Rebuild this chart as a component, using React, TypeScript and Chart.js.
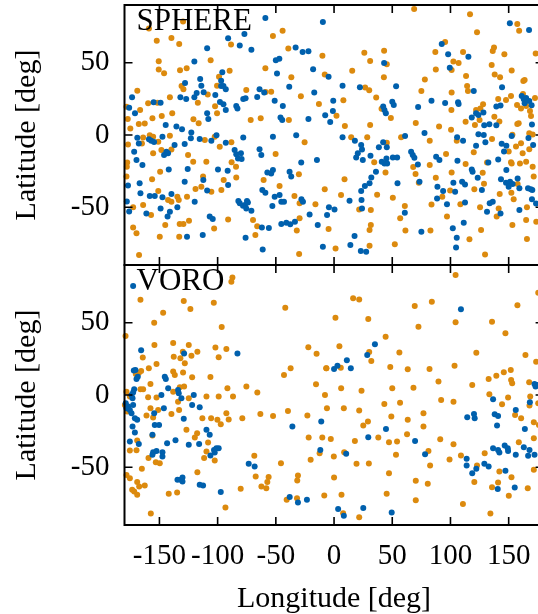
import React, { useEffect, useRef } from 'react';
import { Chart, registerables } from 'chart.js';

Chart.register(...registerables);

// ---------- axes ----------
const lonTicks = [-150, -100, -50, 0, 50, 100, 150];
const latTicks = [-50, 0, 50];
const lonMin = -180;
const lonMax = 180;
const latMin = -90;
const latMax = 90;
const xTitle = 'Longitude [deg]';
const yTitle = 'Latitude [deg]';
const panelNames = ['SPHERE', 'VORO'];

// ---------- data: [longitude, latitude] ----------
const sphereBlue: number[][] = [
  [-59,81],[-91,67],[-77,70],[-81,62],[-71,59],[-109,60],[-33,60.5],[-27,57.4],[-22,58],[-120,50.8],
  [-96,43.4],[-49,42.5],[-50,51.7],[-47,52.8],[-18,45.5],[-97,37.6],[-115,38.7],[-97,34],[-93,31.6],[-95,34],
  [-64,31.6],[-60,29.4],[-38.5,33.4],[-17,29.4],[-128,36],[-132,26.1],[-127,25],[-114,34.1],[-118,29],[-120,26.1],
  [-112,29.6],[-173.5,26.1],[-176,18.9],[-171,15.1],[-155,22.6],[-149,22.4],[-102,27.7],[-98,22.8],[-95,21.3],[-93,17.3],
  [-78,25],[-76,25.4],[-66,26.3],[-51,23.7],[-84,20],[-83,18.4],[-109,15.1],[-108,11.1],[-44,20],[-46,12.2],
  [-44.5,10.4],[-22,11.1],[-177,-35],[-178,-46],[-176,-53],
  [-169,-1.9],[-167.7,-5.8],[-159,-3],[-157,-3.9],[-154.6,-4.9],[-147.4,-1.2],[-144.6,6.9],[-135.4,5.8],[-130.6,3.9],[-122.6,1.8],
  [-123,-2.3],[-144,-11.6],[-146,-13.8],[-142.6,-12.7],[-171.7,-11.6],[-137,-7],[-128.3,-6.3],[-115.4,-2.8],[-105.4,-3.9],[-101,-0.1],
  [-93,-5.4],[-78,-1.7],[-85.4,-10.4],[-84,-13.4],[-80,-12.7],[-82.5,-16.2],[-79.4,-16.6],[-64,-9.9],[-62.5,-13.8],[-52.5,-1.2],
  [-32.5,-0.1],[-169.7,-17.3],[-164.6,-20.8],[-99.7,-23.8],[-91.4,-24.8],[-125.7,-23.5],[-142,-23.8],[-57.3,-25.9],[-54,-26.6],[-52.5,-24.3],
  [-38.2,-25.4],[-36.8,-28.8],[-28.2,-19.1],[-61.6,-38.1],[-59,-40],[-74.8,-45.7],[-82.2,-45.7],[-81,-47.3],[-76.5,-48.5],[-112.3,-31.2],
  [-109,-38.5],[-91,-34.7],[-128.3,-32.3],[-119.7,-46.2],[-167,-33.4],[-158.3,-42.2],[-154,-42.2],[-147.4,-43.1],[-139.7,-40.9],[-134.6,-50.1],
  [-166.3,-40.4],[-46.8,-41.6],[-45.3,-46.2],[-43,-46.2],[-51,-42.7],[-53,-49.2],[-28,-44.4],[-26.7,-46.2],[-14.7,-17.3],[-161.2,-54.3],
  [-149,-50.8],[-141,-53.1],[-143,-56.5],[-106.8,-56.5],[-104.2,-58.1],[-74,-46.8],[-78.2,-49],[-75.4,-50.8],[-71,-52.4],[-62,-64],
  [-56,-64.4],[-45.3,-61.6],[-41,-60.7],[-37.6,-61.8],[-33.6,-60],[-21,-55],[-14,-62.3],[-126.3,-70.4],[-112.8,-69.3],[-76,-71.1],
  [-61.3,-79.2],
  [-9.6,78.3],[151,77.3],[167.5,72.7],[92.5,63],[98,55.9],[115.4,54.1],[43,49.9],[99.4,46.6],[-4.7,40.4],[7.3,34.1],
  [22.2,33],[53.3,33.7],[83.7,23.7],[120,30.5],[95.4,22.2],[106.5,22.6],[107,21.5],[-0.7,23.7],[-1,16.6],[-7.6,13.6],
  [-3.3,9],[7.3,-1.6],[42.2,19.7],[43.3,17.3],[44.5,15],[50,23.1],[51.3,20.8],[72.2,19.4],[77.7,1.4],[105.7,-1.6],
  [118.3,12.2],[122,15],[124,13.8],[128.3,15.5],[129,6.7],[133.4,7.4],[139.4,6.7],[144.3,33],[161.2,27],[163,24.8],
  [165,25.7],[163.7,21.9],[167.7,23.5],[169.7,20.6],[139.4,19.7],[143,20.4],[170,7.2],[124,0.5],[128.6,0],[152.6,-0.7],
  [61,-0.7],
  [17.9,-3.9],[23.3,-7],[24,-10],[20.4,-12.7],[24.7,-17.3],[19,-15.5],[31.3,-14.3],[38.5,-8.5],[42.2,-5.1],[45.3,-8.5],
  [45,-16.2],[43.3,-19.7],[45.6,-19.7],[41,-18.5],[50.5,-15.5],[54.2,-15.5],[66.2,-11.6],[67.6,-13.8],[69,-15.7],[72,-20.4],
  [73.4,-32.3],[87.7,-15.1],[90.5,-17.3],[110.8,-3.9],[106,-17.8],[118.3,-23.8],[119,-25.4],[123.4,-29.6],[122,-7.4],[130,-5.1],
  [88.8,-35.8],[93.7,-38.7],[102.5,-33],[104,-39.3],[110,-32.3],[112.5,-34.2],[112.5,-46.8],[88.5,-43.9],[97,-48],[127,-38.1],
  [136.3,-46.2],[133.7,-47.3],[131.4,-53.1],[143,-54.3],[148,-24.3],[143.4,-30.7],[147.7,-33],[151.2,-32.3],[153.4,-34],[150,-35.8],
  [159.2,-36.9],[157.7,-30.1],[166.6,-36.9],[170.3,-38.1],[170,-44.4],[159.2,-51.9],[102,-64.6],[105.4,-71.1],[104.8,-77.8],[111.4,-60.7],
  [75,-66.9],[60.8,-53.8],[-9.6,-77.3],[-6,-55.4],[-4.4,-50.1],[0.4,-51.5],[13.3,-45.5],[14,-76.2],[17.6,-69.9],[23.3,-38.7],
  [23.6,-45],[24,-50.8],[26.5,-35.3],[30.5,-33.4],[32,-29.4],[36,-25.4],[23,-80.3],[27.6,-80.8],[54.5,-33.4],
  [167,-2],[171,-7],[144,-6],[148,-7.5],[146,-11.5],[141,-17],[132.5,-19],[169,-37.5],[173.5,-47.5]
];

const sphereOrange: number[][] = [
  [-129.7,78.5],[-159,73.7],[-152.3,65.3],[-139.7,67.1],[-133,63],[-88.5,62.7],[-52.5,68.6],[-44.2,72.2],[-39.3,59.8],[-150.6,51],
  [-106,51.7],[-150.6,45.3],[-146,42.7],[-132.3,44.8],[-126.6,46.2],[-89.7,44.4],[-59,46.2],[-36.7,40],[-98.8,40.4],[-100.5,34.1],
  [-75.4,31.2],[-54,30],[-28.5,26.8],[-169,30.7],[-129.4,31.6],[-131,33.9],[-141,26.1],[-117,22.4],[-108.5,28.1],[-178.3,19.6],
  [-159.7,21.9],[-151.7,22.4],[-166.6,17.3],[-139,15.1],[-102.2,19.9],[-100.5,15.1],[-58.8,29.8],[-156,11.6],[-148,13.2],[-177.2,11.1],
  [-120.8,10.9],[-116.3,8.1],[-71.6,10.4],[-63,11.6],[-13,21.5],[-38.8,10.4],
  [-175,4.5],[-167.7,7.6],[-162.6,8],[-164,-1.7],[-165,-5.8],[-158.3,-0.1],[-155.4,-1.2],[-151,-4.6],[-141,-0.5],[-148.3,-10.4],
  [-155.4,-12.7],[-177,-6.5],[-139.7,-10],[-111,-3.5],[-102.5,-1.2],[-98.2,-8.1],[-88.2,-5.1],[-50.2,-13.2],[-25.3,-5.1],[-177.7,-19.1],
  [-121,-18.5],[-125.4,-13.8],[-109.7,-18.5],[-88,-18.9],[-84.2,-21.9],[-149.4,-25.4],[-30.2,-27.2],[-60.5,-31.2],[-112.5,-28.8],[-114,-35.8],
  [-105.4,-39.3],[-96.8,-38.1],[-84,-29.4],[-94.8,-31.2],[-119,-37.4],[-126.3,-42.7],[-156.3,-30.7],[-178.3,-28.8],[-142.6,-45],[-139.7,-46.2],
  [-134.6,-42.7],[-133.4,-45],[-151,-38.8],[-164,-48.5],[-172.6,-50.1],[-46.8,-35.3],[-34,-42.2],[-29.6,-47.3],[-16,-48],[-145,-62.3],
  [-157.2,-55.4],[-129.4,-61.6],[-132.6,-61.6],[-124.6,-59.4],[-91,-58.5],[-69.6,-58.9],[-66,-63.1],[-67.6,-69.3],[-29.6,-57.7],[-32,-66.2],
  [-172.6,-64],[-169.7,-68.1],[-167.5,-83.1],[-149.7,-70.4],[-133,-70.4],[-103,-64.7],[-30,-82.4],[-178,-22],
  [68.8,87.2],[116.8,83.6],[122.8,71.1],[157.4,76.8],[159,72.2],[95.4,64.4],[-10,54.9],[26,57],[43,58.4],[31,51.2],
  [45.3,49],[87,57.4],[110.8,57.4],[102.5,50.8],[107,49.9],[87.4,45.3],[101,45],[136.3,58.1],[137.4,60.5],[146.3,55.9],
  [135.4,48.4],[152.6,44.6],[138,41.8],[142.6,40],[173.2,56.5],[-8,41.8],[15.6,44.4],[42.8,40],[78,38.5],[113.4,40.9],
  [26.7,32.8],[30.2,30.9],[36.2,25.9],[75,30.5],[101,29.4],[114.3,33.9],[115,30.5],[100.8,17.3],[113,9.2],[8,24],
  [2.1,13.4],[9.3,6.3],[40.8,18.2],[48.8,11.8],[31,6.9],[70.2,8.3],[90.2,5.8],[100.5,3.7],[122,17.3],[125.7,18.4],
  [128,21.3],[125,10.4],[121,6.9],[142,9.4],[137.7,12.7],[141,25],[147.7,24.2],[152,27],[162.6,37.4],[163.7,38.1],
  [162.3,28.4],[157.2,20.8],[160.6,18.4],[165,20.1],[168.3,16.6],[169.2,13.2],[158.6,8.1],[157.4,7.6],[172.6,25.7],[167.7,1.2],
  [170.6,0.3],[153.2,0.1],[57.6,-1.6],[14.7,-1.6],[28.5,-1.6],
  [34.5,-18.9],[45.3,-5.4],[44.2,-25.9],[68,-22.2],[70,-27],[72.8,-33],[82.2,-3.9],[82.2,-20.8],[96.2,-13.2],[101,-25.9],
  [87.4,-29.6],[105.4,-3.9],[113,-20.1],[120,-12],[127.7,-26.1],[128.8,-33.7],[131.4,-19.1],[135.7,-2.8],[99.7,-38.5],[93,-42.7],
  [83.7,-48.2],[97,-56.5],[108.5,-48],[142.3,-40.9],[141.4,-50.8],[139.7,-56.5],[126.3,-65.8],[116.3,-72.2],[129.7,-82.7],[125.4,-50.1],
  [152.3,-40],[154.3,-44.4],[157.7,-34],[152.6,-19.7],[159.7,-19.7],[165,-18.5],[170.6,-21.9],[171.5,-28.8],[165.7,-50.1],[165,-58.9],
  [173.7,-60],[153.2,-62.3],[165.7,-72],[-8,-37.6],[-4.7,-65.1],[1.3,-78.5],[9,-30.7],[6,-41.6],[21.6,-51.5],[31.6,-51.9],
  [30.5,-65.8],[31.6,-62.3],[30.5,-76.6],[37,-41.3],[50.5,-43.4],[56.8,-57.7],[60.8,-49.2],[61.3,-66.2],[52.2,-75.7],[82.8,-66.2],
  [120.5,-37.6],[156.3,-8],[160.6,-5.7],[162,-12.7],[167.7,-9.9],[152,-18.9],[150,-11.5]
];

const voroBlue: number[][] = [
  [-172.6,75.4],[-165.7,30.9],[-172,16.9],[-170.6,17.3],[-168.6,12.7],[-169.7,11.1],[-171.7,4],[-172.6,1.7],[-174,0],[-173.1,-2.3],
  [-178.9,-5.7],[-176.9,-8],[-175.4,-10.3],[-178.3,-9.2],[-174,-12.6],[-172.6,-6.9],[-171.1,-16.1],[-169.1,-17.2],[-173.1,-21.8],[-171.1,-26],
  [-175.4,-32.2],[-167.7,-34],[-154.5,-12.6],[-156,-27.6],[-154,-20.7],[-150.3,-20.7],[-155.4,-39.6],[-152.5,-38.7],[-147.4,-39.6],[-147.4,-42.6],
  [-156,-41.4],[-145.4,12.7],[-144.5,11.1],[-142.5,4.6],[-148.3,0],[-146.2,-9.2],[-134,3.5],[-131.1,-2.3],[-133.4,1.2],[-128.8,28.8],
  [-129.1,-16.5],[-120.5,0],[-121.9,-6.9],[-115.4,-8.5],[-136.2,-31.3],[-143.4,-33.4],[-124.8,-34.5],[-115.9,-34],[-109.6,-24.1],[-106.8,-27.6],
  [-103.1,-38],[-101.1,-36.8],[-99.1,-36.8],[-102.5,-39.8],[-106.2,-41.9],[-134.5,-58.7],[-131.7,-58.7],[-130.2,-57.1],[-130.2,-59.9],[-115.4,-62.2],
  [-112.5,-62.6],[-97.3,-67.2],[-83,28.8],[-73.3,-47.6],[-68.2,-49.5],[-35.8,-21.8],[-38.1,-70.7],[-31,-74.4],[-23.3,-72.5],[-11,-18.4],
  [-11.8,-38],
  [109,59.3],[35.1,35.1],[28.5,27.7],[11,24],[2.9,20.3],[0,18],[14.4,18.5],[136.6,-3],[156.1,-10.3],[172.2,7.6],
  [114.4,-15.4],[120.2,-13.1],[120.8,-16.1],[138,-13.3],[140.9,-14.5],[140,-21.2],[44.6,-23.5],[69.6,-31.8],[78.2,-41],[29.4,-29.2],
  [10.4,-40.7],[113.9,-44.2],[113.9,-48.8],[118.7,-54.1],[122.2,-51.1],[129.1,-47.6],[132.8,-49.5],[136.6,-36.8],[140.9,-38],[142,-39.8],
  [146.6,-35],[149.2,-36.8],[149.5,-38.7],[147.2,-52.5],[156.1,-41.4],[163.9,-23.5],[163,-36.1],[167.9,-38],[172.2,-41.4],[166.7,-42.1],
  [155.2,-64],[140.6,-65],[3.5,-79],[8.4,-83.6],[25.1,-78.3],[49.5,-81.3],[168.2,-5],[173.1,5.8],[175,7]
];

const voroOrange: number[][] = [
  [-87.3,81.4],[-88.2,78.4],[-166.3,65.9],[-129.1,65],[-123.4,59.5],[-146.8,57],[-154.5,50],[-103.3,63.9],[-96.5,47.1],[-179.1,40.8],
  [-154.3,34.6],[-138.2,36],[-124.8,34.6],[-129.9,30],[-117.4,30],[-101.9,32.8],[-92.5,31.8],[-99.1,26.1],[-164.3,25.9],[-137.7,26.5],
  [-132,25.4],[-128.2,21.9],[-122.5,27.2],[-170.3,14.6],[-167.7,15.3],[-165.7,16.7],[-159.1,18.5],[-152.5,21.5],[-138.2,16.2],[-136.8,13.9],
  [-129.7,15.5],[-121.9,12.3],[-106.2,12.5],[-157.7,7.6],[-166.3,4],[-164,4],[-178.3,2.3],[-175.4,-1.1],[-179.7,-6.9],[-177.7,-11.5],
  [-159.7,-1.6],[-152.5,-1.8],[-157.7,-9.2],[-155.4,-15.6],[-161.1,-14.2],[-151.1,-10.3],[-138.2,2.3],[-132.5,5.3],[-128.8,5.8],[-139.7,-13.1],
  [-133.1,-10.3],[-124.8,-2.3],[-134,-4.6],[-109.6,-1.1],[-99.1,-1.1],[-86.8,-1.1],[-91.6,4.6],[-75.3,5.8],[-65.9,1.7],[-113.1,-16.1],
  [-105.6,-16.1],[-100.2,-17.2],[-97.3,-20.2],[-92.5,-12.6],[-90.5,-17],[-78.8,-16.1],[-63.3,-13.1],[-52.4,-14.5],[-126.8,-24.1],[-117.6,-26.5],
  [-119.6,-29.4],[-108.2,-32.9],[-109.6,-39.1],[-111.6,-43.7],[-102.5,-45.3],[-156,-28.1],[-159.4,-43.7],[-153.1,-46.5],[-149.7,-47.2],[-169.1,-31.5],
  [-169.7,-38.2],[-175.4,-38.4],[-165.1,-51.1],[-178.3,-55.3],[-175.4,-57.6],[-169.1,-60.3],[-167.4,-63.3],[-162.6,-62.6],[-171.7,-66.8],[-169.1,-69.1],
  [-173.4,-65.6],[-157.4,-82],[-142,-68.4],[-134.8,-67.5],[-117.4,-53.4],[-93.3,-77.8],[-80.2,-64.9],[-68.5,-42.1],[-67.3,-56.4],[-62.4,-63.3],
  [-58.2,-64.5],[-57.3,-60.3],[-56.2,-56.8],[-45.6,-47.2],[-40.7,-72.5],[-31.8,-71.4],[-31.6,-59.2],[-31,-55.7],[-20.1,-44.9],[-8.4,-69.5],
  [-41.9,60.4],[-22.1,33],[-15,28.6],[-6.7,18.5],[-15.5,7.4],[-7.8,0],[-6.1,-9.2],[-10.1,-29.4],[-12.4,-40.3],[-43,13.9],
  [-37.3,18.5],[-39.6,-11],[-22.9,-14.2],[-21.8,-29.4],
  [104.4,83],[16.4,66.9],[21.6,66.2],[1.2,53.5],[29.4,52.6],[69.3,61.6],[84,64.6],[72.5,47.3],[104.4,50.3],[135.7,50.7],
  [147.2,42.7],[157.5,62.2],[175.4,70.8],[4.6,33.7],[44.3,40.4],[30.2,29.8],[32,23.5],[56.1,29.5],[48.3,19.4],[63.3,17.8],
  [82,18],[103.5,20.3],[122.2,29.3],[164.4,27.7],[173.6,23.1],[-6.6,18.5],[5.8,18.9],[6.1,4.7],[23.6,3],[50,4.6],
  [68.2,5.1],[89.7,9.3],[92,-3.4],[118.7,6.9],[132.8,11.1],[139.4,13.4],[145.8,15.7],[151.8,17.3],[152.1,10.4],[153,8.1],
  [167.6,8.8],[168.5,-1.1],[8.4,-9.2],[21.6,-10.8],[43.2,-6.2],[56.7,-5.3],[49.2,-14.9],[76.8,-12.6],[63.3,-17.2],[76.8,-21.8],
  [102.6,-4.6],[133.4,0.5],[144.3,-6.4],[149.5,-1.8],[155.5,-13.8],[160.7,-16.1],[167.9,-7.3],[171.6,-18.9],[175.4,-5.7],[25.1,-21.2],
  [29.1,-18.4],[-2.8,-30.4],[17.9,-31.8],[38,-29.4],[47.2,-32.7],[54.1,-32.2],[62.7,-27.1],[91.2,-30.6],[102.6,-34.1],[-0.2,-42.6],
  [8.7,-39.6],[19.3,-47.6],[29.9,-47.4],[53.2,-41.4],[81.1,-38.7],[82.5,-48.8],[99.2,-44.6],[109,-41.9],[122.8,-48.8],[129.4,-40.3],
  [158.7,-32.7],[171.6,-29.9],[0,-57.1],[47.2,-54.1],[70.2,-59.4],[80.5,-61.5],[120.5,-60.3],[135.7,-63.8],[140.9,-60.6],[142,-53],
  [152.4,-56.9],[166.4,-64.5],[150.1,-69.8],[171.6,-51.8],[6.4,-69.1],[45.2,-68.4],[70.2,-72.8],[110.7,-75.5],[134.3,-82],[7.8,-81.8],
  [21.6,-84.7],[176,-20.7]
];

// ---------- style ----------
const BLUE = '#0060ad';
const ORANGE = '#dc8a0e';
const FONT = "'Liberation Serif', 'Times New Roman', Times, serif";
const CANVAS_W = 560;
const PLOT_LEFT = 124.5;
const PLOT_RIGHT = 543.6;

const framePlugin = {
  id: 'frame',
  afterDraw(chart: any, _args: any, opts: any) {
    const { ctx, chartArea: a, scales } = chart;
    const xs = scales.x;
    const ys = scales.y;
    ctx.save();
    ctx.strokeStyle = '#000';
    ctx.lineWidth = 1.6;
    ctx.beginPath();
    for (const v of lonTicks) {
      const px = xs.getPixelForValue(v);
      ctx.moveTo(px, a.bottom);
      ctx.lineTo(px, a.bottom - 8);
      ctx.moveTo(px, a.top);
      ctx.lineTo(px, a.top + 8);
    }
    for (const v of latTicks) {
      const py = ys.getPixelForValue(v);
      ctx.moveTo(a.left, py);
      ctx.lineTo(a.left + 8, py);
      ctx.moveTo(a.right, py);
      ctx.lineTo(a.right - 8, py);
    }
    ctx.stroke();
    ctx.lineWidth = 2;
    ctx.strokeRect(a.left, a.top, a.right - a.left, a.bottom - a.top);
    ctx.fillStyle = '#000';
    ctx.font = `31px ${FONT}`;
    ctx.textAlign = 'left';
    ctx.textBaseline = 'alphabetic';
    ctx.fillText(opts.label, a.left + 12, a.top + 25);
    ctx.restore();
  },
};

type PanelProps = {
  blue: number[][];
  orange: number[][];
  name: string;
  showX: boolean;
  top: number;
  height: number;
  padTop: number;
  padBottom: number;
  xAxisH: number;
};

function Panel(props: PanelProps) {
  const ref = useRef<HTMLCanvasElement | null>(null);
  useEffect(() => {
    const { blue, orange, name, showX, padTop, padBottom, xAxisH } = props;
    const tickFont = { family: FONT, size: 29 };
    const titleFont = { family: FONT, size: 30 };
    const chart = new Chart(ref.current as HTMLCanvasElement, {
      type: 'scatter',
      data: {
        datasets: [
          {
            data: blue.map(([x, y]) => ({ x, y })),
            backgroundColor: BLUE,
            borderColor: BLUE,
            pointRadius: 3,
            pointBorderWidth: 0,
            pointHoverRadius: 3,
            clip: false as any,
          },
          {
            data: orange.map(([x, y]) => ({ x, y })),
            backgroundColor: ORANGE,
            borderColor: ORANGE,
            pointRadius: 3,
            pointBorderWidth: 0,
            pointHoverRadius: 3,
            clip: false as any,
          },
        ],
      },
      options: {
        responsive: false,
        maintainAspectRatio: false,
        animation: false,
        events: [],
        layout: {
          autoPadding: false,
          padding: { top: padTop, right: CANVAS_W - PLOT_RIGHT, bottom: padBottom, left: 0 },
        },
        plugins: {
          legend: { display: false },
          tooltip: { enabled: false },
          frame: { label: name },
        } as any,
        scales: {
          x: {
            type: 'linear',
            min: lonMin,
            max: lonMax,
            display: showX,
            afterBuildTicks: (s: any) => {
              s.ticks = lonTicks.map((v) => ({ value: v }));
            },
            afterFit: (s: any) => {
              s.height = xAxisH;
              s.paddingLeft = 0;
              s.paddingRight = 0;
              s.paddingTop = 0;
              s.paddingBottom = 0;
            },
            grid: { display: false, drawTicks: false },
            border: { display: false },
            ticks: {
              font: tickFont,
              color: '#000',
              padding: 14,
              maxRotation: 0,
              autoSkip: false,
              callback: (v: any) => String(v),
            },
            title: {
              display: true,
              text: xTitle,
              font: titleFont,
              color: '#000',
              padding: { top: 0, bottom: 13 },
            },
          },
          y: {
            type: 'linear',
            min: latMin,
            max: latMax,
            afterBuildTicks: (s: any) => {
              s.ticks = latTicks.map((v) => ({ value: v }));
            },
            afterFit: (s: any) => {
              s.width = PLOT_LEFT;
              s.paddingLeft = 0;
              s.paddingRight = 0;
              s.paddingTop = 0;
              s.paddingBottom = 0;
            },
            grid: { display: false, drawTicks: false },
            border: { display: false },
            ticks: {
              font: tickFont,
              color: '#000',
              padding: 15,
              autoSkip: false,
              callback: (v: any) => String(v),
            },
            title: {
              display: true,
              text: yTitle,
              font: titleFont,
              color: '#000',
              padding: { top: 9, bottom: 0 },
            },
          },
        },
      } as any,
      plugins: [framePlugin],
    });
    return () => chart.destroy();
  }, []);
  return (
    <canvas
      ref={ref}
      width={CANVAS_W}
      height={props.height}
      style={{ position: 'absolute', left: 0, top: props.top, width: CANVAS_W, height: props.height }}
    />
  );
}

export default function App() {
  return (
    <div
      style={{
        position: 'fixed',
        left: 0,
        top: 0,
        width: 538,
        height: 614,
        overflow: 'hidden',
        background: '#fff',
      }}
    >
      <Panel blue={sphereBlue} orange={sphereOrange} name={panelNames[0]} showX={false}
        top={0} height={280} padTop={5} padBottom={15} xAxisH={0} />
      <Panel blue={voroBlue} orange={voroOrange} name={panelNames[1]} showX={true}
        top={255} height={375} padTop={10} padBottom={0} xAxisH={105} />
    </div>
  );
}
